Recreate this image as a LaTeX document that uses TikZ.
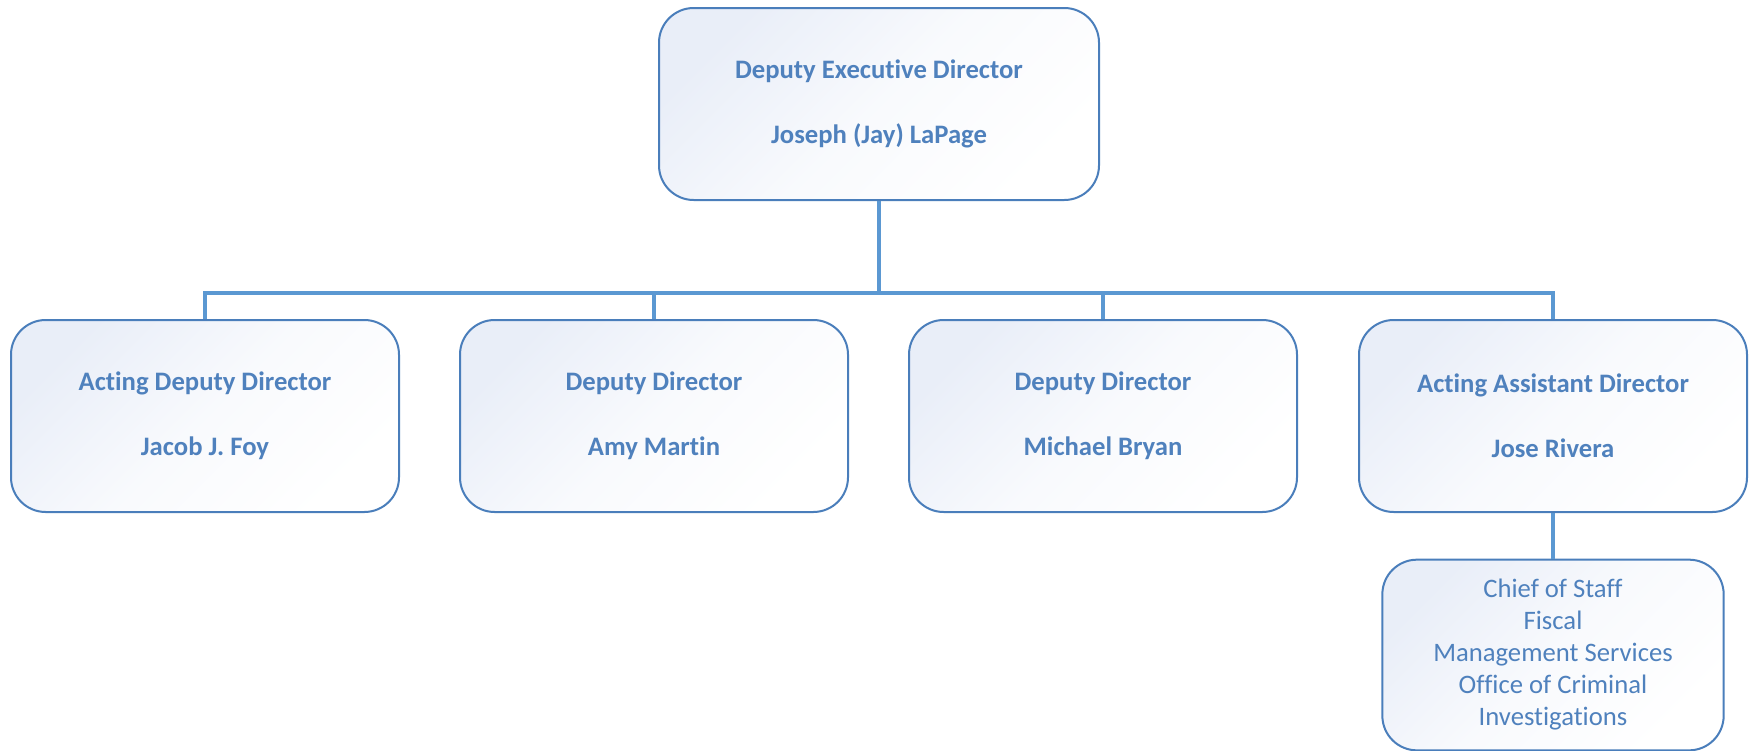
\documentclass[tikz,border=0pt]{standalone}
\usepackage{fontspec}
\setmainfont[Ligatures=NoCommon]{Carlito}
\definecolor{boxline}{RGB}{74,126,187}
\definecolor{boxtext}{RGB}{79,129,189}
\definecolor{linkline}{RGB}{91,152,210}
\definecolor{boxtint}{RGB}{233,238,248}
\begin{document}
\begin{tikzpicture}[x=0.75pt,y=-0.75pt,
    unit/.style={draw=boxline, line width=1.5pt, rounded corners=26pt,
      top color=boxtint, bottom color=white, middle color=white!70!boxtint, shading angle=45,
      text=boxtext, align=center, inner sep=0pt,
      font=\fontsize{20pt}{49pt}\selectfont\bfseries},
    head/.style={unit, minimum width=330pt, minimum height=144pt},
    deputy/.style={unit, minimum width=291pt, minimum height=144pt},
    office/.style={unit, minimum width=256pt, minimum height=143pt,
      font=\fontsize{20pt}{24pt}\selectfont},
    link/.style={draw=linkline, line width=2.6pt}]
        \useasboundingbox (0,0) rectangle (1749,750);

        \node [head] (director) at (879,104) {Deputy Executive Director\\Joseph (Jay) LaPage};

        \node [deputy] (foy) at (205,416) {Acting Deputy Director\\Jacob J. Foy};
        \node [deputy] (martin) at (654,416) {Deputy Director\\Amy Martin};
        \node [deputy] (bryan) at (1103,416) {Deputy Director\\Michael Bryan};
        \node [deputy] (rivera) at (1553,416) {Acting Assistant Director\\Jose Rivera};

        \node [office] (staff) at (1553,655) {Chief of Staff\\Fiscal\\Management Services\\Office of Criminal\\Investigations};

        \coordinate (bus) at (879,293);

        \draw [link] (director.south) -- (bus);
        \draw [link] (foy.north) |- (bus);
        \draw [link] (martin.north) |- (bus);
        \draw [link] (bryan.north) |- (bus);
        \draw [link] (rivera.north) |- (bus);
        \draw [link] (rivera.south) -- (staff.north);
    \end{tikzpicture}
\end{document}
